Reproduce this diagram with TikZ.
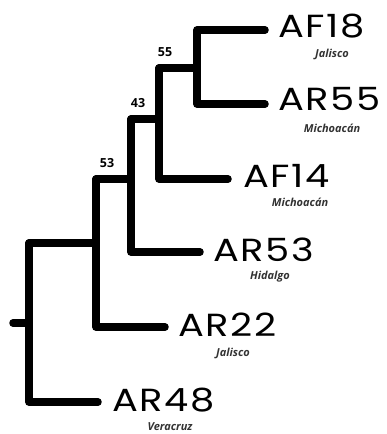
\documentclass[tikz,border=0pt]{standalone}
\usepackage{fontspec}
\newfontfamily\taxonfont[LetterSpace=4]{Poppins}
\newfontfamily\statefont{Open Sans}
\newfontfamily\supportfont{Open Sans}
\begin{document}
\begin{tikzpicture}[x=1pt,y=-1pt,
  branch/.style={line width=7.5pt,line cap=round,line join=round},
  taxon/.style={anchor=west,inner sep=0pt,xscale=1.2,font=\taxonfont\fontsize{32}{32}\selectfont},
  state/.style={inner sep=0pt,text=black!80,font=\statefont\itshape\bfseries\fontsize{11}{11}\selectfont},
  support/.style={inner sep=0pt,font=\supportfont\bfseries\fontsize{12.5}{13}\selectfont}]
\useasboundingbox (0,0) rectangle (386,434);

% internal nodes (vertical bar position, attachment height)
\coordinate (root) at (29,323);
\coordinate (stub) at (13,323);
\coordinate (nA) at (96,243);
\coordinate (n53) at (131,179);
\coordinate (n43) at (159,119);
\coordinate (n55) at (197,68);

% branch tips
\coordinate (tAF18) at (265,30);
\coordinate (tAR55) at (265,104);
\coordinate (tAF14) at (228,179);
\coordinate (tAR53) at (200,252);
\coordinate (tAR22) at (165,327);
\coordinate (tAR48) at (98,402);

% branches
\draw[branch] (tAF18) -| (n55) |- (tAR55);
\draw[branch] (n55) -- (n55 -| n43);
\draw[branch] (n55 -| n43) -- (n43) |- (tAF14);
\draw[branch] (n43) -- (n43 -| n53);
\draw[branch] (n43 -| n53) -- (n53) |- (tAR53);
\draw[branch] (n53) -- (n53 -| nA);
\draw[branch] (n53 -| nA) -- (nA) |- (tAR22);
\draw[branch] (nA) -- (nA -| root);
\draw[branch] (nA -| root) -- (root) |- (tAR48);
\draw[branch] (stub) -- (root);

% support values
\node[support] (s55) at (165,52) {55};
\node[support] (s43) at (138,103) {43};
\node[support] (s53) at (107,163) {53};

% taxa with locality
\node[taxon] (AF18) at ([xshift=13pt,yshift=4pt]tAF18) {AF18};
\node[state] (lAF18) at (332,54) {Jalisco};
\node[taxon] (AR55) at ([xshift=13pt,yshift=5pt]tAR55) {AR55};
\node[state] (lAR55) at (332,128) {Michoacán};
\node[taxon] (AF14) at ([xshift=15pt,yshift=3pt]tAF14) {AF14};
\node[state] (lAF14) at (300,202) {Michoacán};
\node[taxon] (AR53) at ([xshift=13pt,yshift=2pt]tAR53) {AR53};
\node[state] (lAR53) at (270,277) {Hidalgo};
\node[taxon] (AR22) at ([xshift=13pt,yshift=2pt]tAR22) {AR22};
\node[state] (lAR22) at (233,353) {Jalisco};
\node[taxon] (AR48) at ([xshift=14pt,yshift=2pt]tAR48) {AR48};
\node[state] (lAR48) at (170,427) {Veracruz};
\end{tikzpicture}
\end{document}
